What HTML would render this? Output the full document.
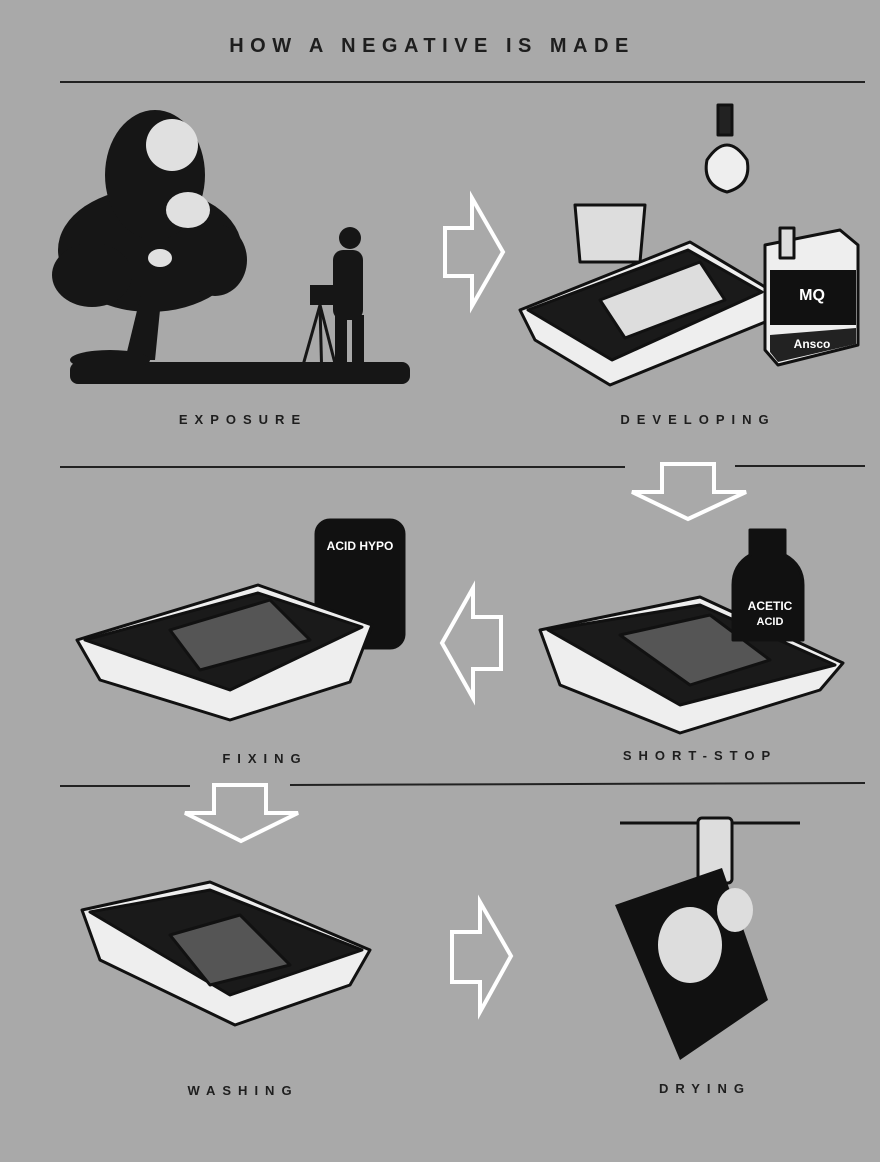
<!DOCTYPE html>
<html><head><meta charset="utf-8"><style>
html,body{margin:0;padding:0;background:#a9a9a9;}
body{width:880px;height:1162px;overflow:hidden;}
svg{display:block;}
text{font-family:"Liberation Sans",sans-serif;font-weight:bold;fill:#1e1e1e;}
</style></head><body>
<svg width="880" height="1162" viewBox="0 0 880 1162" xmlns="http://www.w3.org/2000/svg">
<rect width="880" height="1162" fill="#a9a9a9"/>
<text x="432" y="52" font-size="20" text-anchor="middle" letter-spacing="6.5">HOW A NEGATIVE IS MADE</text>
<g stroke="#222" stroke-width="2">
<line x1="60" y1="82" x2="865" y2="82"/>
<line x1="60" y1="467" x2="625" y2="467"/><line x1="735" y1="466" x2="865" y2="466"/>
<line x1="60" y1="786" x2="190" y2="786"/><line x1="290" y1="785" x2="865" y2="783"/>
</g>
<g fill="#a9a9a9" stroke="#fff" stroke-width="4" stroke-linejoin="miter">
<polygon points="445,228 472,228 472,198 503,252 472,306 472,276 445,276"/>
<polygon points="662,464 714,464 714,492 746,492 688,519 632,492 662,492"/>
<polygon points="501,617 473,617 473,588 442,643 473,698 473,669 501,669"/>
<polygon points="214,785 266,785 266,813 298,813 241,841 185,813 214,813"/>
<polygon points="452,932 480,932 480,902 511,956 480,1012 480,982 452,982"/>
</g>
<!-- tree -->
<g fill="#161616">
<ellipse cx="150" cy="250" rx="92" ry="62"/><ellipse cx="155" cy="175" rx="50" ry="65"/>
<ellipse cx="92" cy="275" rx="40" ry="32"/><ellipse cx="215" cy="260" rx="32" ry="36"/>
<polygon points="142,290 162,290 155,360 125,360"/>
<rect x="70" y="362" width="340" height="22" rx="8"/>
<ellipse cx="110" cy="360" rx="40" ry="10"/>
</g>
<g fill="#e0e0e0"><ellipse cx="172" cy="145" rx="26" ry="26"/><ellipse cx="188" cy="210" rx="22" ry="18"/><ellipse cx="160" cy="258" rx="12" ry="9"/></g>
<!-- man & camera -->
<g fill="#161616">
<circle cx="350" cy="238" r="11"/><rect x="333" y="250" width="30" height="70" rx="10"/>
<rect x="335" y="315" width="12" height="68"/><rect x="352" y="315" width="12" height="68"/>
<rect x="310" y="285" width="25" height="20"/>
</g>
<g stroke="#161616" stroke-width="3"><line x1="320" y1="305" x2="298" y2="383"/><line x1="320" y1="305" x2="322" y2="383"/><line x1="320" y1="305" x2="340" y2="383"/></g>
<text x="243" y="424" font-size="13" text-anchor="middle" letter-spacing="7">EXPOSURE</text>
<!-- developing -->
<g stroke="#111" stroke-width="3" stroke-linejoin="round">
<path d="M707,160 q20,-30 40,0 q5,25 -20,32 q-25,-7 -20,-32z" fill="#eee"/>
<rect x="718" y="105" width="14" height="30" fill="#222"/>
<path d="M575,205 L645,205 L640,262 L580,262z" fill="#ddd"/>
<polygon points="520,310 690,242 770,290 770,320 610,385 535,340" fill="#eee"/>
<polygon points="528,310 688,250 762,292 612,360" fill="#1a1a1a"/>
<polygon points="600,300 700,262 725,300 625,338" fill="#ddd"/>
<polygon points="765,245 840,230 858,245 858,345 778,365 765,350" fill="#eee"/>
<rect x="780" y="228" width="14" height="30" fill="#ddd"/>
</g>
<rect x="770" y="270" width="86" height="55" fill="#111"/>
<polygon points="770,335 856,328 856,344 778,362 770,352" fill="#222"/>
<text x="812" y="300" font-size="16" text-anchor="middle" style="fill:#fff">MQ</text>
<text x="812" y="348" font-size="12" text-anchor="middle" style="fill:#fff">Ansco</text>
<text x="698" y="424" font-size="13" text-anchor="middle" letter-spacing="7">DEVELOPING</text>
<!-- fixing -->
<g stroke="#111" stroke-width="3" stroke-linejoin="round">
<rect x="316" y="520" width="88" height="128" rx="14" fill="#111"/>
<polygon points="77,640 258,585 372,625 350,682 230,720 100,680" fill="#eee"/>
<polygon points="85,640 258,593 362,627 230,690" fill="#1a1a1a"/>
<polygon points="170,630 270,600 310,640 200,670" fill="#555"/>
<polygon points="540,630 700,597 843,663 820,690 680,733 560,685" fill="#eee"/>
<polygon points="548,630 700,605 835,665 680,705" fill="#1a1a1a"/>
<polygon points="620,635 710,615 770,660 690,685" fill="#555"/>
<path d="M750,555 l0,-25 l35,0 l0,25 q18,10 18,30 l0,55 l-70,0 l0,-55 q0,-20 17,-30z" fill="#111"/>
</g>
<text x="360" y="550" font-size="12" text-anchor="middle" style="fill:#fff">ACID HYPO</text>
<text x="770" y="610" font-size="12" text-anchor="middle" style="fill:#fff">ACETIC</text>
<text x="770" y="625" font-size="11" text-anchor="middle" style="fill:#fff">ACID</text>
<text x="265" y="763" font-size="13" text-anchor="middle" letter-spacing="7">FIXING</text>
<text x="700" y="760" font-size="13" text-anchor="middle" letter-spacing="7">SHORT-STOP</text>
<!-- washing -->
<g stroke="#111" stroke-width="3" stroke-linejoin="round">
<polygon points="82,910 210,882 370,950 350,985 235,1025 100,960" fill="#eee"/>
<polygon points="90,912 210,890 362,950 230,995" fill="#1a1a1a"/>
<polygon points="170,935 240,915 290,965 210,985" fill="#555"/>
</g>
<!-- drying -->
<line x1="620" y1="823" x2="800" y2="823" stroke="#111" stroke-width="3"/>
<rect x="698" y="818" width="34" height="65" rx="4" fill="#ddd" stroke="#111" stroke-width="3"/>
<polygon points="615,905 722,868 768,1000 680,1060" fill="#111"/>
<ellipse cx="690" cy="945" rx="32" ry="38" fill="#ddd"/>
<ellipse cx="735" cy="910" rx="18" ry="22" fill="#ddd"/>
<text x="243" y="1095" font-size="13" text-anchor="middle" letter-spacing="7">WASHING</text>
<text x="705" y="1093" font-size="13" text-anchor="middle" letter-spacing="7">DRYING</text>
</svg>
</body></html>
